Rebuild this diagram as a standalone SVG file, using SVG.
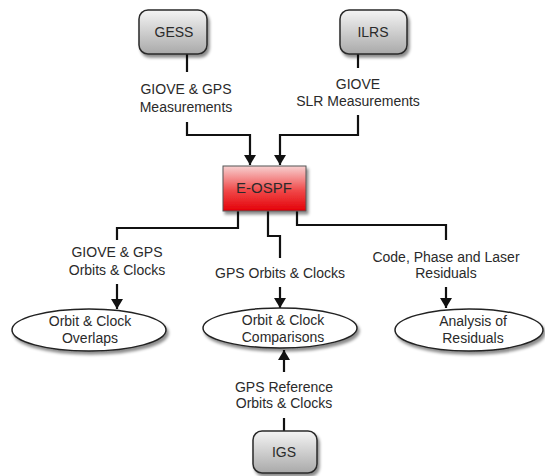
<svg xmlns="http://www.w3.org/2000/svg" width="545" height="476" viewBox="0 0 545 476">
<defs>
<linearGradient id="gray" x1="0" y1="0" x2="0" y2="1">
<stop offset="0" stop-color="#f4f4f4"/>
<stop offset="1" stop-color="#a9a9a9"/>
</linearGradient>
<linearGradient id="red" x1="0" y1="0" x2="0" y2="1">
<stop offset="0" stop-color="#f7d0d0"/>
<stop offset="0.55" stop-color="#f04848"/>
<stop offset="1" stop-color="#e40008"/>
</linearGradient>
<filter id="sh" x="-20%" y="-20%" width="150%" height="160%">
<feDropShadow dx="2" dy="3" stdDeviation="1.5" flood-color="#000" flood-opacity="0.45"/>
</filter>
<marker id="ah" viewBox="0 0 10 12" refX="10" refY="6" markerWidth="10" markerHeight="12" markerUnits="userSpaceOnUse" orient="auto">
<path d="M0,0 L10,6 L0,12 z" fill="#111"/>
</marker>
</defs>
<style>
text{font-family:"Liberation Sans",Arial,sans-serif;font-size:14px;fill:#2a2a2a;text-anchor:middle}
.box{fill:url(#gray);stroke:#2a2a2a;stroke-width:1.5;filter:url(#sh)}
.ell{fill:#fff;stroke:#222;stroke-width:1.5;filter:url(#sh)}
.c{fill:none;stroke:#111;stroke-width:2.2}
.a{marker-end:url(#ah)}
</style>
<rect width="545" height="476" fill="#fff"/>

<g id="connectors">
<path class="c" d="M187,54 V72"/>
<path class="c a" d="M187,122 V135 H250 V165"/>
<path class="c" d="M358,54 V68"/>
<path class="c a" d="M358,115 V135 H280 V165"/>
<path class="c" d="M238,211 V228 H117 V240"/>
<path class="c a" d="M117,284 V309"/>
<path class="c" d="M268,211 V236 H280 V258"/>
<path class="c a" d="M280,287 V308"/>
<path class="c" d="M297,211 V225 H446 V240"/>
<path class="c a" d="M446,287 V308"/>
<path class="c" d="M284,431 V418"/>
<path class="c a" d="M284,372 V350"/>
</g>

<g id="label-gess">
<text x="186" y="94">GIOVE &amp; GPS</text>
<text x="186" y="112">Measurements</text>
</g>
<g id="label-ilrs">
<text x="358" y="89">GIOVE</text>
<text x="358" y="106">SLR Measurements</text>
</g>
<g id="label-left">
<text x="117" y="257">GIOVE &amp; GPS</text>
<text x="117" y="275">Orbits &amp; Clocks</text>
</g>
<g id="label-mid">
<text x="280" y="278">GPS Orbits &amp; Clocks</text>
</g>
<g id="label-right">
<text x="446" y="262">Code, Phase and Laser</text>
<text x="446" y="278">Residuals</text>
</g>
<g id="label-igs">
<text x="284" y="392">GPS Reference</text>
<text x="284" y="408">Orbits &amp; Clocks</text>
</g>

<g id="GESS">
<rect class="box" x="139" y="10" width="68" height="44" rx="9"/>
<text x="174" y="37">GESS</text>
</g>
<g id="ILRS">
<rect class="box" x="340" y="10" width="67" height="44" rx="9"/>
<text x="373" y="37">ILRS</text>
</g>
<g id="EOSPF">
<rect x="223" y="166" width="83" height="45" fill="url(#red)" stroke="#555" stroke-width="1" filter="url(#sh)"/>
<text x="264" y="193" style="font-size:15px">E-OSPF</text>
</g>
<g id="overlaps">
<ellipse class="ell" cx="89" cy="330" rx="77" ry="21"/>
<text x="90" y="326">Orbit &amp; Clock</text>
<text x="90" y="343">Overlaps</text>
</g>
<g id="comparisons">
<ellipse class="ell" cx="280" cy="328" rx="77" ry="20"/>
<text x="283" y="325">Orbit &amp; Clock</text>
<text x="283" y="342">Comparisons</text>
</g>
<g id="residuals">
<ellipse class="ell" cx="469" cy="330" rx="74" ry="21"/>
<text x="473" y="326">Analysis of</text>
<text x="473" y="343">Residuals</text>
</g>
<g id="IGS">
<rect class="box" x="253" y="431" width="64" height="42" rx="9"/>
<text x="284" y="457">IGS</text>
</g>
</svg>
